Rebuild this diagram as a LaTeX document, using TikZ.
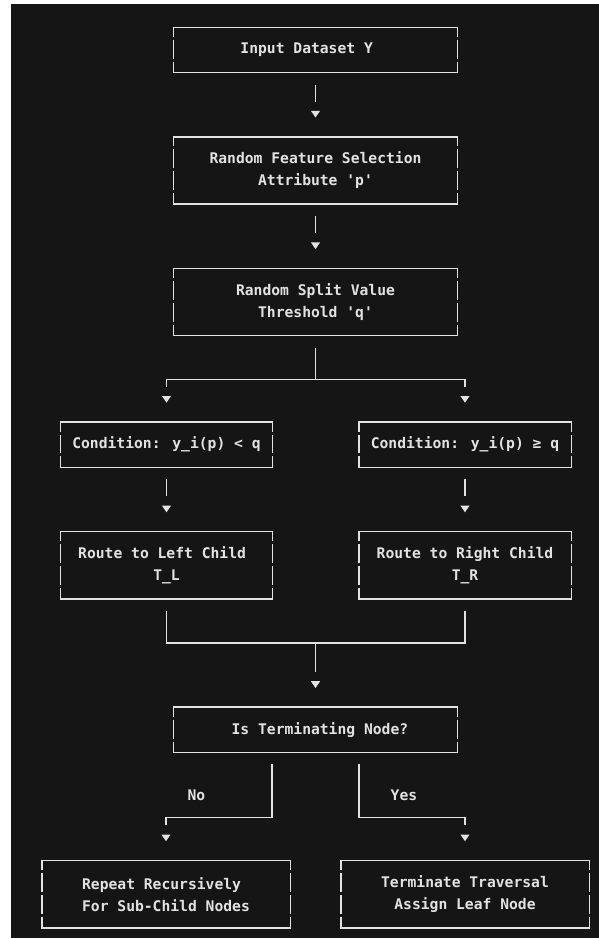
\documentclass[tikz,border=0pt]{standalone}
\usepackage{fontspec}
\usetikzlibrary{arrows.meta,positioning}
\newfontfamily\asciifont{DejaVu Sans Mono}
\definecolor{term}{HTML}{151515}
\definecolor{ink}{HTML}{E2E2E2}

\tikzset{
  frame/.style={append after command={
      (\tikzlastnode.north west) edge[line cap=rect] (\tikzlastnode.north east)
      (\tikzlastnode.south west) edge[line cap=rect] (\tikzlastnode.south east)
      (\tikzlastnode.north west) edge[side] (\tikzlastnode.south west)
      (\tikzlastnode.north east) edge[side] (\tikzlastnode.south east)}},
  side/.style={dash pattern=on 14.2pt off 2.25pt, dash phase=7.1pt},
  wide/.style={minimum width=212.25pt},
  half/.style={minimum width=158.25pt},
  foot/.style={minimum width=185.25pt},
  tworow/.style={minimum height=32.9pt},
  threerow/.style={minimum height=49.35pt},
  flow/.style={draw=term, shorten <=9pt, shorten >=14.5pt,
    -{Triangle[length=5pt, width=6.5pt, color=ink]},
    postaction={draw=ink, -, shorten >=26.5pt}}
}

\begin{document}
\begin{tikzpicture}[x=0.75pt, y=-0.75pt, color=ink, line width=1.1pt,
    font=\asciifont\bfseries\fontsize{11pt}{16.45pt}\selectfont]

      \useasboundingbox (0,0) rectangle (599,939);
      \fill[white] (0,0) rectangle (599,939);
      \fill[term] (11,4) rectangle (599,938);

      \begin{scope}[every node/.style={frame, align=center, inner sep=0pt}]
        \node[wide, tworow]   (1)  at (315.5,49.9)  {Input Dataset Y~~};
        \node[wide, threerow] (2)  at (315.5,170.5) {Random Feature Selection~\\Attribute 'p'};
        \node[wide, threerow] (3)  at (315.5,302.1) {Random Split Value~\\Threshold 'q'};
        \node[half, tworow]   (4)  at (166.5,444.7) {Condition: y\_i(p) < q};
        \node[half, tworow]   (5)  at (465,444.7)   {Condition: y\_i(p) ≥ q};
        \node[half, threerow] (6)  at (166.5,565.3) {Route to Left Child~~\\T\_L};
        \node[half, threerow] (7)  at (465,565.3)   {Route to Right Child~\\T\_R};
        \node[wide, tworow]   (8)  at (315.5,729.8) {~Is Terminating Node?};
        \node[foot, threerow, align=left] (9) at (166,894.2) {Repeat Recursively\\For Sub-Child Nodes};
        \node[foot, threerow] (10) at (465,894.2)   {Terminate Traversal\\Assign Leaf Node~};
      \end{scope}

      \begin{scope}[every node/.style={inner sep=0pt, ink}]
        \path (1) edge[flow] (2);
        \path (2) edge[flow] (3);
        \draw[flow] (3.south) -- ++(0,44) -| (4.north);
        \draw[flow] (3.south) -- ++(0,44) -| (5.north);
        \path (4) edge[flow] (6);
        \path (5) edge[flow] (7);
        \draw[flow] (6.south) -- ++(0,44) -| (8.north);
        \draw[flow] (7.south) -- ++(0,44) -| (8.north);
        \draw[flow] (8.south) ++(-43.5,0) -- ++(0,65) node[pos=.66, left=49.5pt] {No} -| (9.north);
        \draw[flow] (8.south) ++(43.5,0) -- ++(0,65) node[pos=.66, right=23.25pt] {Yes} -| (10.north);
      \end{scope}

    \end{tikzpicture}
\end{document}
